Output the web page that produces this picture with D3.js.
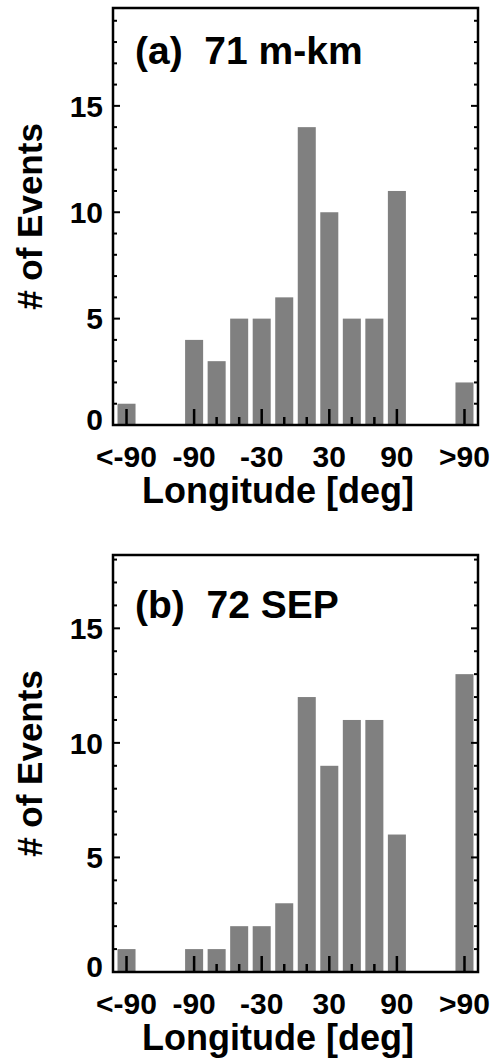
<!DOCTYPE html>
<meta charset="utf-8">
<script src="https://d3js.org/d3.v7.min.js"></script>
<style>
  body { margin: 0; background: #fff; }
  text { font-family: "Liberation Sans", Arial, Helvetica, sans-serif; font-weight: bold; fill: #000; white-space: pre; }
</style>
<div id="my_dataviz"></div>
<script>

// bin centres in degrees (the outer bins "<-90" and ">90" are put at -150 and 150)
var binCenters = [-150, -90, -70, -50, -30, -10, 10, 30, 50, 70, 90, 150];
var countsA = [1, 4, 3, 5, 5, 6, 14, 10, 5, 5, 11, 2];
var countsB = [1, 1, 1, 2, 2, 3, 12, 9, 11, 11, 6, 13];

var xTickValues = [-150, -90, -30, 30, 90, 150];
var xTickLabels = ["<-90", "-90", "-30", "30", "90", ">90"];
var xMinorTicks = [-70, -50, -10, 10, 50, 70];
var yTickValues = [0, 5, 10, 15];
var yMinorTicks = [1, 2, 3, 4, 6, 7, 8, 9, 11, 12, 13, 14, 16, 17, 18, 19];

var titles = ["(a)  71 m-km", "(b)  72 SEP"];
var yMax = [19.6, 18.2];

var W = 495, H = 1059;
var svg = d3.select("#my_dataviz").append("svg")
    .attr("width", W).attr("height", H);

var panels = [
  {counts: countsA, title: titles[0], ymax: yMax[0], top: 8, bottom: 425, titleY: 64},
  {counts: countsB, title: titles[1], ymax: yMax[1], top: 555, bottom: 972, titleY: 618}
];

var left = 113, right = 478;

panels.forEach(function(p) {
  var x = d3.scaleLinear().domain([-162, 162]).range([left, right]);
  var y = d3.scaleLinear().domain([0, p.ymax]).range([p.bottom, p.top]);
  var g = svg.append("g");
  var barW = x(16) - x(0);

  // bars
  g.selectAll("rect.bar")
    .data(binCenters.map(function(c, i) { return {c: c, v: p.counts[i]}; }))
    .enter().append("rect")
      .attr("class", "bar")
      .attr("x", function(d) { return x(d.c) - barW / 2; })
      .attr("width", barW)
      .attr("y", function(d) { return y(d.v); })
      .attr("height", function(d) { return y(0) - y(d.v); })
      .attr("fill", "#808080");

  // x ticks (pointing up, inside)
  g.selectAll("line.xmaj").data(xTickValues).enter().append("line")
    .attr("x1", function(d) { return x(d); }).attr("x2", function(d) { return x(d); })
    .attr("y1", p.bottom).attr("y2", p.bottom - 16)
    .attr("stroke", "#000").attr("stroke-width", 2.5);
  g.selectAll("line.xmin").data(xMinorTicks).enter().append("line")
    .attr("x1", function(d) { return x(d); }).attr("x2", function(d) { return x(d); })
    .attr("y1", p.bottom).attr("y2", p.bottom - 8)
    .attr("stroke", "#000").attr("stroke-width", 2.5);

  // y ticks on both sides
  [left, right].forEach(function(edge) {
    var dir = edge === left ? 1 : -1;
    g.selectAll(null).data(yTickValues).enter().append("line")
      .attr("x1", edge).attr("x2", edge + dir * 7)
      .attr("y1", function(d) { return y(d); }).attr("y2", function(d) { return y(d); })
      .attr("stroke", "#000").attr("stroke-width", 2);
    g.selectAll(null).data(yMinorTicks.filter(function(d) { return d < p.ymax; })).enter().append("line")
      .attr("x1", edge).attr("x2", edge + dir * 4)
      .attr("y1", function(d) { return y(d); }).attr("y2", function(d) { return y(d); })
      .attr("stroke", "#000").attr("stroke-width", 2);
  });

  // frame
  g.append("rect")
    .attr("x", left).attr("y", p.top)
    .attr("width", right - left).attr("height", p.bottom - p.top)
    .attr("fill", "none").attr("stroke", "#000").attr("stroke-width", 2.5);

  // tick labels
  g.selectAll("text.xl").data(xTickValues).enter().append("text")
    .attr("x", function(d) { return x(d); })
    .attr("y", p.bottom + 42)
    .attr("text-anchor", "middle")
    .style("font-size", "30px")
    .text(function(d, i) { return xTickLabels[i]; });

  g.selectAll("text.yl").data(yTickValues).enter().append("text")
    .attr("x", left - 10)
    .attr("y", function(d) { return y(d) - (d === 0 ? 6 : 0); })
    .attr("dy", "0.36em")
    .attr("text-anchor", "end")
    .style("font-size", "30px")
    .text(function(d) { return d; });

  // axis titles
  g.append("text")
    .attr("x", 278).attr("y", p.bottom + 78)
    .attr("text-anchor", "middle")
    .style("font-size", "36px")
    .text("Longitude [deg]");

  g.append("text")
    .attr("transform", "translate(42," + ((p.top + p.bottom) / 2) + ") rotate(-90)")
    .attr("text-anchor", "middle")
    .style("font-size", "35px")
    .text("# of Events");

  // panel title
  g.append("text")
    .attr("x", 135).attr("y", p.titleY)
    .style("font-size", "39px")
    .text(p.title);
});

</script>
